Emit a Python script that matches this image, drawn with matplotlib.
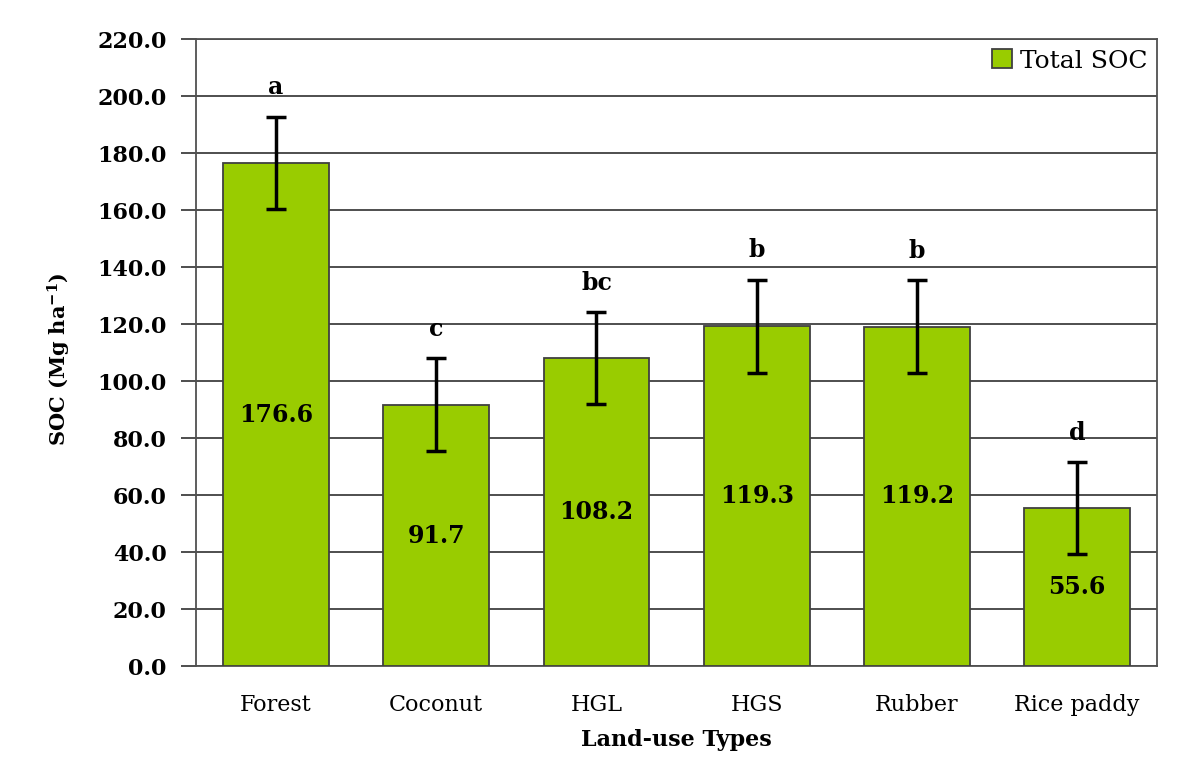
import numpy as np
import matplotlib.pyplot as plt

# land-use SOC stocks (Mg/ha) with standard errors and significance letters
land_use = ['Forest', 'Coconut', 'HGL', 'HGS', 'Rubber', 'Rice paddy']
soc_total = [176.6, 91.7, 108.2, 119.3, 119.2, 55.6]
soc_err = [16.3, 16.3, 16.2, 16.4, 16.3, 16.2]
letters = ['a', 'c', 'bc', 'b', 'b', 'd']

plt.rcParams['font.family'] = 'DejaVu Serif'
plt.rcParams['mathtext.fontset'] = 'dejavuserif'
fig = plt.figure(figsize=(11.88, 7.57), dpi=100)
ax = fig.add_axes([0.165, 0.12, 0.809, 0.828])

x = np.arange(len(land_use))
ax.bar(x, soc_total, width=0.66, color='#99cc00', edgecolor='#404040',
       linewidth=1.3, label='Total SOC', zorder=3)
ax.errorbar(x, soc_total, yerr=soc_err, fmt='none', ecolor='black',
            elinewidth=2.5, capsize=7, capthick=2.5, zorder=4)

# value inside bar, letter above error bar
for i, v in enumerate(soc_total):
    ax.text(x[i], v / 2, f'{v:.1f}', ha='center', va='center',
            fontsize=17, fontweight='bold', zorder=5)
    ax.text(x[i], v + soc_err[i] + 6, letters[i], ha='center', va='bottom',
            fontsize=17, fontweight='bold', zorder=5)

ax.set_xlim(-0.5, len(land_use) - 0.5)
ax.set_ylim(0, 220)
ax.set_yticks(np.arange(0, 221, 20))
ax.set_yticklabels([f'{t:.1f}' for t in np.arange(0, 221, 20)],
                   fontsize=16, fontweight='bold')
ax.set_xticks(x)
ax.set_xticklabels(land_use, fontsize=16)
ax.tick_params(axis='x', length=0, pad=20)
ax.tick_params(axis='y', direction='out', length=11, width=1.3, color='#404040', pad=10)

ax.yaxis.grid(True, color='#404040', linewidth=1.3, zorder=0)
for side in ['left', 'right', 'top', 'bottom']:
    ax.spines[side].set_color('#505050')
    ax.spines[side].set_linewidth(1.3)

ax.set_ylabel('SOC (Mg ha$^{\\mathbf{-1}}$)', fontsize=15, fontweight='bold')
ax.yaxis.set_label_coords(-0.128, 0.49)
ax.set_xlabel('Land-use Types', fontsize=16, fontweight='bold')
ax.xaxis.set_label_coords(0.5, -0.1)

ax.legend(loc='upper right', frameon=False, fontsize=18, handlelength=0.8,
          handleheight=0.8, handletextpad=0.3, borderaxespad=0.0)

fig.savefig('out.png', dpi=100)
